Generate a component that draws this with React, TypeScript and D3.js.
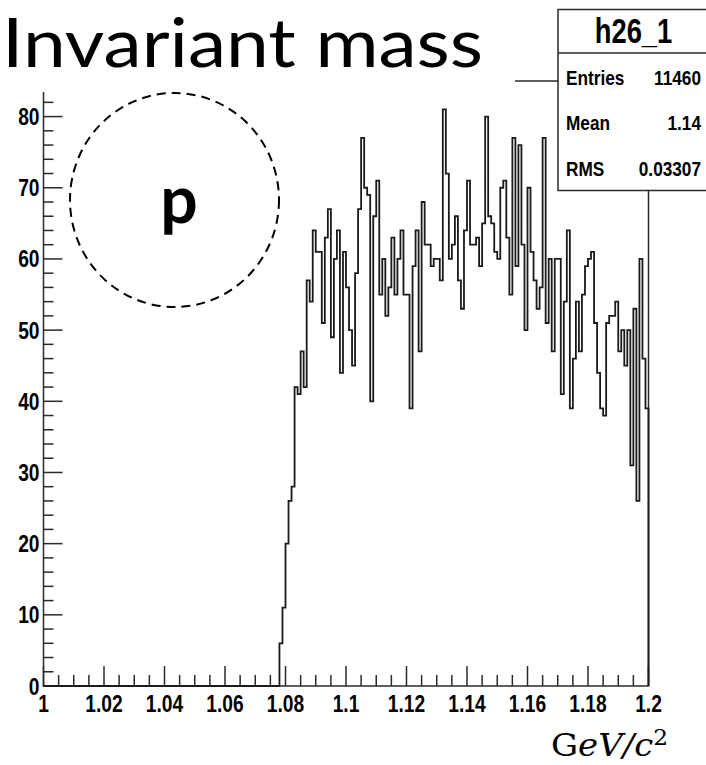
import React from 'react';
import * as d3 from 'd3';

// ---- data ----
const X_MIN = 1.0;
const X_MAX = 1.2;
const Y_MAX = 85;
const BIN_WIDTH = 0.001;
const FIRST_FILLED_BIN = 1.078; // bins below are empty
const counts: number[] = [
  6, 11, 20, 26, 28, 42, 41, 47, 42, 57,
  54, 64, 61, 61, 51, 63, 67, 49, 60, 64,
  44, 61, 56, 50, 45, 58, 67, 77, 70, 69,
  40, 66, 71, 55, 60, 52, 56, 63, 55, 60,
  64, 55, 55, 39, 59, 64, 47, 68, 62, 62,
  59, 60, 60, 57, 81, 72, 60, 62, 66, 57,
  53, 64, 71, 62, 62, 63, 59, 65, 80, 66,
  65, 61, 60, 70, 71, 63, 55, 77, 59, 76,
  62, 50, 70, 61, 57, 53, 56, 77, 51, 60,
  47, 60, 60, 41, 54, 64, 39, 46, 54, 47,
  55, 59, 60, 61, 51, 44, 39, 38, 51, 52,
  52, 54, 47, 50, 45, 50, 31, 53, 26, 60,
  46, 39,
];
const xTickValues = [1.0, 1.02, 1.04, 1.06, 1.08, 1.1, 1.12, 1.14, 1.16, 1.18, 1.2];
const xTickLabels = ['1', '1.02', '1.04', '1.06', '1.08', '1.1', '1.12', '1.14', '1.16', '1.18', '1.2'];
const yTickValues = [0, 10, 20, 30, 40, 50, 60, 70, 80];
const yTickLabels = ['0', '10', '20', '30', '40', '50', '60', '70', '80'];
const statsTitle = 'h26_1';
const statsLabels = ['Entries', 'Mean', 'RMS'];
const statsValues = ['11460', '1.14', '0.03307'];
const chartTitle = 'Invariant mass';
const circleLabel = 'p';

const W = 706;
const H = 765;
const ROOT_FONT = "'Liberation Sans', Arial, sans-serif";

export default function App() {
  const x = d3.scaleLinear().domain([X_MIN, X_MAX]).range([43.5, 648.5]);
  const y = d3.scaleLinear().domain([0, Y_MAX]).range([686, 81]);

  const pts: [number, number][] = [[X_MIN, 0]];
  counts.forEach((c, i) => pts.push([FIRST_FILLED_BIN + i * BIN_WIDTH, c]));
  pts.push([X_MAX, 0]);
  const line = d3
    .line<[number, number]>()
    .x((d) => x(d[0]))
    .y((d) => y(d[1]))
    .curve(d3.curveStepAfter);

  const xMinor = d3.range(0, 41).map((i) => X_MIN + i * 0.005).filter((_, i) => i % 4 !== 0);
  const yMinor = d3.range(0, 43).map((i) => i * 2).filter((v) => v % 10 !== 0 && v < Y_MAX);

  const x0 = x(X_MIN);
  const x1 = x(X_MAX);
  const y0 = y(0);
  const yTop = y(Y_MAX);
  const axisColor = '#2a2a2a';

  return (
    <svg
      width={W}
      height={H}
      viewBox={`0 0 ${W} ${H}`}
      style={{ position: 'absolute', left: 0, top: 0, background: '#fff' }}
    >
      <rect x={0} y={0} width={W} height={H} fill="#fff" />
      {/* frame */}
      <rect x={x0} y={yTop} width={x1 - x0} height={y0 - yTop} fill="none" stroke={axisColor} strokeWidth={1.5} />
      {/* x ticks */}
      {xTickValues.map((v) => (
        <line key={'xt' + v} x1={x(v)} x2={x(v)} y1={y0} y2={y0 - 20} stroke={axisColor} strokeWidth={1.5} />
      ))}
      {xMinor.map((v) => (
        <line key={'xm' + v} x1={x(v)} x2={x(v)} y1={y0} y2={y0 - 11} stroke={axisColor} strokeWidth={1.5} />
      ))}
      {/* y ticks */}
      {yTickValues.map((v) => (
        <line key={'yt' + v} x1={x0} x2={x0 + 19} y1={y(v)} y2={y(v)} stroke={axisColor} strokeWidth={1.5} />
      ))}
      {yMinor.map((v) => (
        <line key={'ym' + v} x1={x0} x2={x0 + 10} y1={y(v)} y2={y(v)} stroke={axisColor} strokeWidth={1.5} />
      ))}
      {/* histogram */}
      <path d={line(pts) || ''} fill="none" stroke="#1a1a1a" strokeWidth={1.8} />
      {/* tick labels */}
      {xTickValues.map((v, i) => (
        <text
          key={'xl' + v}
          transform={`translate(${x(v)},${712}) scale(0.8,1)`}
          textAnchor="middle"
          fontFamily={ROOT_FONT}
          fontWeight="bold"
          fontSize={24}
          fill="#000"
        >
          {xTickLabels[i]}
        </text>
      ))}
      {yTickValues.map((v, i) => (
        <text
          key={'yl' + v}
          transform={`translate(${39.5},${y(v) + 8.5}) scale(0.8,1)`}
          textAnchor="end"
          fontFamily={ROOT_FONT}
          fontWeight="bold"
          fontSize={24}
          fill="#000"
        >
          {yTickLabels[i]}
        </text>
      ))}
      {/* slide title overlay */}
      <rect x={0} y={0} width={515} height={92} fill="#fff" />
      <text
        x={2}
        y={67}
        fontFamily="Lato, 'Open Sans', sans-serif"
        fontSize={67}
        textLength={481}
        lengthAdjust="spacingAndGlyphs"
        fill="#000"
      >
        {chartTitle}
      </text>
      {/* dashed circle with label */}
      <ellipse cx={174.5} cy={200} rx={104.5} ry={107} fill="none" stroke="#000" strokeWidth={2} strokeDasharray="9 6" />
      <text x={179} y={223} textAnchor="middle" fontFamily="Lato, 'Open Sans', sans-serif" fontWeight="bold" fontSize={66} fill="#000">
        {circleLabel}
      </text>
      {/* stats box */}
      <rect x={558} y={9.5} width={160} height={181} fill="#fff" stroke={axisColor} strokeWidth={1.5} />
      <line x1={558} x2={718} y1={53} y2={53} stroke={axisColor} strokeWidth={1.5} />
      <text
        transform={`translate(${633.5},${43}) scale(0.76,1)`}
        textAnchor="middle"
        fontFamily={ROOT_FONT}
        fontWeight="bold"
        fontSize={36}
        fill="#000"
      >
        {statsTitle}
      </text>
      {statsLabels.map((lab, i) => (
        <g key={lab}>
          <text
            transform={`translate(${566},${85 + i * 45.3}) scale(0.82,1)`}
            fontFamily={ROOT_FONT}
            fontWeight="bold"
            fontSize={21}
            fill="#000"
          >
            {lab}
          </text>
          <text
            transform={`translate(${701},${85 + i * 45.3}) scale(0.82,1)`}
            textAnchor="end"
            fontFamily={ROOT_FONT}
            fontWeight="bold"
            fontSize={21}
            fill="#000"
          >
            {statsValues[i]}
          </text>
        </g>
      ))}
      {/* unit label */}
      <text
        x={551}
        y={756}
        fontFamily="'DejaVu Serif', 'Liberation Serif', serif"
        fontSize={32}
        fill="#000"
        textLength={117}
        lengthAdjust="spacingAndGlyphs"
      >
        <tspan>G</tspan>
        <tspan fontStyle="italic">eV</tspan>
        <tspan fontStyle="italic">/</tspan>
        <tspan fontStyle="italic">c</tspan>
        <tspan dy={-11} fontSize={22}>2</tspan>
      </text>
    </svg>
  );
}
